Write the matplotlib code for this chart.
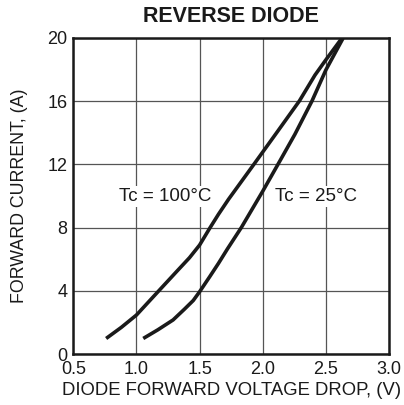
import matplotlib.pyplot as plt

# curve data
v_100 = [0.76, 0.88, 1.0, 1.17, 1.33, 1.42, 1.5, 1.58, 1.65, 1.73, 1.93, 2.115, 2.29, 2.414, 2.5, 2.625]
i_100 = [1.0, 1.7, 2.48, 3.95, 5.33, 6.1, 6.9, 7.96, 8.85, 9.8, 12.0, 14.05, 16.0, 17.64, 18.6, 19.95]
v_25 = [1.054, 1.17, 1.29, 1.38, 1.45, 1.5, 1.58, 1.65, 1.72, 1.83, 2.0, 2.135, 2.255, 2.39, 2.5, 2.635]
i_25 = [1.0, 1.55, 2.17, 2.85, 3.4, 3.95, 4.9, 5.75, 6.65, 8.0, 10.3, 12.2, 13.9, 16.0, 17.96, 19.95]

x_ticks = [0.5, 1.0, 1.5, 2.0, 2.5, 3.0]
x_labels = ["0.5", "1.0", "1.5", "2.0", "2.5", "3.0"]
y_ticks = [0, 4, 8, 12, 16, 20]

plt.rcParams['font.family'] = ['Liberation Sans', 'DejaVu Sans']
ink = '#1a1a1a'

fig = plt.figure(figsize=(4.04, 4.05), dpi=100)
ax = fig.add_axes([73.3 / 404, 1 - 354.3 / 405, (389 - 73.3) / 404, (354.3 - 37.7) / 405])

ax.plot(v_100, i_100, color=ink, linewidth=2.6, solid_capstyle='butt', solid_joinstyle='round', zorder=3)
ax.plot(v_25, i_25, color=ink, linewidth=2.6, solid_capstyle='butt', solid_joinstyle='round', zorder=3)

ax.set_xlim(0.5, 3.0)
ax.set_ylim(0, 20)
ax.set_xticks(x_ticks)
ax.set_xticklabels(x_labels)
ax.set_yticks(y_ticks)
ax.tick_params(length=0, labelsize=13, colors=ink)
ax.tick_params(axis='x', pad=5)
ax.tick_params(axis='y', pad=4)
ax.grid(True, color='#555555', linewidth=0.9)
ax.set_axisbelow(True)
for s in ax.spines.values():
    s.set_linewidth(1.8)
    s.set_color(ink)

ax.text(1.23, 9.96, "Tc = 100°C", fontsize=13.5, ha='center', va='center', color=ink,
        bbox=dict(facecolor='white', edgecolor='none', pad=1.5), zorder=2)
ax.text(2.42, 9.96, "Tc = 25°C", fontsize=13.5, ha='center', va='center', color=ink,
        bbox=dict(facecolor='white', edgecolor='none', pad=1.5), zorder=2)

ax.set_title("REVERSE DIODE", fontsize=15.5, fontweight='bold', pad=11, color=ink)
ax.set_xlabel("DIODE FORWARD VOLTAGE DROP, (V)", fontsize=13.3, labelpad=3, color=ink)
ax.set_ylabel("FORWARD CURRENT, (A)", fontsize=12.8, labelpad=14, color=ink)

plt.savefig("out.png", dpi=100)
